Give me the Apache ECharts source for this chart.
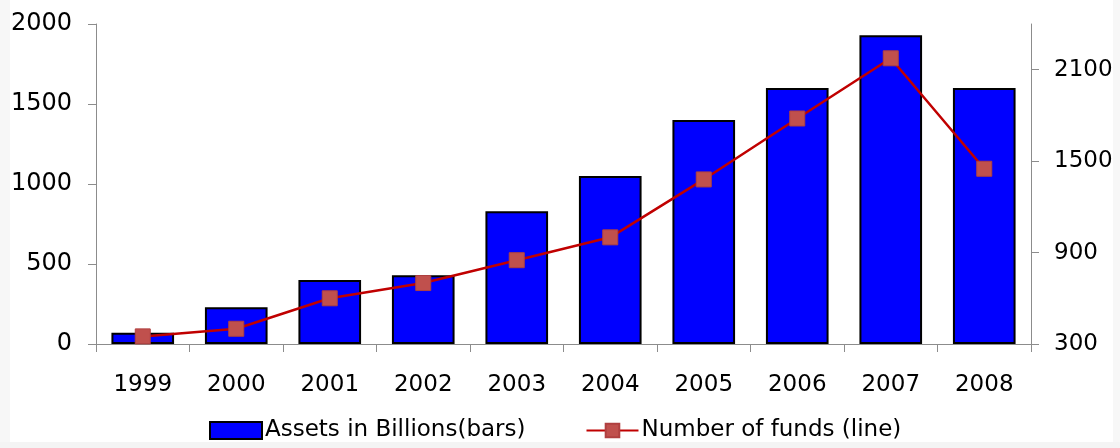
<!DOCTYPE html>
<html>
<head>
<meta charset="utf-8">
<script src="https://cdn.jsdelivr.net/npm/echarts@6/dist/echarts.min.js"></script>
<style>
html,body{margin:0;padding:0;background:#fff;}
#chart{width:1120px;height:448px;}
</style>
</head>
<body>
<div id="chart"></div>
<script>
const categories = ['1999','2000','2001','2002','2003','2004','2005','2006','2007','2008'];
const assets = [70, 230, 400, 430, 830, 1050, 1400, 1600, 1930, 1600];
const funds = [350, 400, 600, 700, 850, 1000, 1380, 1780, 2175, 1450];
const leftTicks = [0, 500, 1000, 1500, 2000];
const rightTicks = [300, 900, 1500, 2100];

const chart = echarts.init(document.getElementById('chart'));
const font = 'DejaVu Sans, sans-serif';
const axisGray = '#8c8c8c';
const plain = v => String(v);
chart.setOption({
  animation: false,
  backgroundColor: '#fff',
  textStyle: {fontFamily: font},
  graphic: [
    {type: 'rect', left: 0, top: 0, z: -10, shape: {width: 10, height: 448}, style: {fill: '#f7f7f7'}},
    {type: 'rect', right: 0, top: 0, z: -10, shape: {width: 7, height: 448}, style: {fill: '#f7f7f7'}},
    {type: 'rect', left: 0, bottom: 0, z: -10, shape: {width: 1120, height: 6}, style: {fill: '#f4f4f4'}}
  ],
  grid: {left: 96, right: 89, top: 24, bottom: 104, containLabel: false},
  legend: {
    bottom: 1,
    left: 204,
    itemWidth: 52,
    itemHeight: 17,
    itemGap: 60,
    textStyle: {fontFamily: font, fontSize: 23, color: '#000', padding: [0, 0, 0, -2]},
    data: [
      {name: 'Assets in Billions(bars)', icon: 'rect'},
      {name: 'Number of funds (line)'}
    ]
  },
  xAxis: {
    type: 'category',
    data: categories,
    axisLine: {lineStyle: {color: axisGray, width: 1}},
    axisTick: {show: true, alignWithLabel: false, length: 8, lineStyle: {color: axisGray}},
    axisLabel: {fontFamily: font, fontSize: 23, color: '#000', margin: 30}
  },
  yAxis: [
    {
      type: 'value', min: 0, max: 2000, interval: 500,
      axisLine: {show: true, lineStyle: {color: axisGray}},
      axisTick: {show: true, length: 8, lineStyle: {color: axisGray}, customValues: leftTicks},
      axisLabel: {fontFamily: font, fontSize: 24, color: '#000', margin: 24, customValues: leftTicks, formatter: plain},
      splitLine: {show: false}
    },
    {
      type: 'value', min: 300, max: 2400,
      position: 'right',
      axisLine: {show: true, lineStyle: {color: axisGray}},
      axisTick: {show: true, length: 8, lineStyle: {color: axisGray}, customValues: rightTicks},
      axisLabel: {fontFamily: font, fontSize: 23, color: '#000', margin: 23, customValues: rightTicks, formatter: plain},
      splitLine: {show: false}
    }
  ],
  series: [
    {
      name: 'Assets in Billions(bars)',
      type: 'bar',
      yAxisIndex: 0,
      data: assets,
      barWidth: '67%',
      itemStyle: {color: '#0000ff', borderColor: '#000', borderWidth: 2}
    },
    {
      name: 'Number of funds (line)',
      type: 'line',
      yAxisIndex: 1,
      data: funds,
      symbol: 'rect',
      symbolSize: 15,
      lineStyle: {color: '#c00000', width: 2.5},
      itemStyle: {color: '#c0504d', borderColor: '#b04040', borderWidth: 1}
    }
  ]
});
</script>
</body>
</html>
